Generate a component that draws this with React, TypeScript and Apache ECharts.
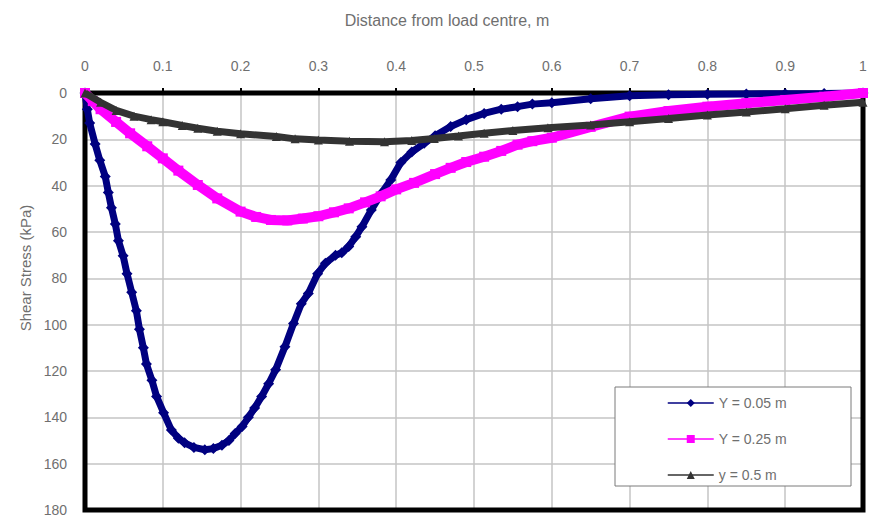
import React, { useEffect, useRef } from "react";
import * as echarts from "echarts";

const xTitle = "Distance from load centre, m";
const yTitle = "Shear Stress (kPa)";
const seriesNames = ["Y = 0.05 m", "Y = 0.25 m", "y = 0.5 m"];

const blueX = [0, 0.003, 0.006, 0.013, 0.019, 0.026, 0.03, 0.034, 0.039, 0.043, 0.049, 0.054, 0.06, 0.066, 0.07, 0.075, 0.079, 0.086, 0.092, 0.101, 0.111, 0.12, 0.128, 0.14, 0.154, 0.165, 0.176, 0.185, 0.193, 0.202, 0.21, 0.218, 0.227, 0.236, 0.245, 0.257, 0.268, 0.278, 0.287, 0.299, 0.309, 0.322, 0.33, 0.339, 0.348, 0.356, 0.368, 0.381, 0.393, 0.406, 0.42, 0.436, 0.45, 0.47, 0.49, 0.513, 0.535, 0.556, 0.575, 0.6, 0.65, 0.7, 0.75, 0.8, 0.85, 0.9, 0.95, 1.0];
const blueY = [0, 7, 13, 22, 29, 36, 43, 49.5, 56.6, 63.8, 70.3, 78, 86, 94, 102, 110, 117, 124, 131, 138, 145.5, 149, 151, 153, 154, 153.5, 152, 150, 147, 144, 140, 136, 131, 125.5, 119.5, 109.5, 99.5, 91, 86.5, 78, 73.5, 70, 69, 66.3, 62, 57.7, 50.5, 43.3, 37.5, 30, 25.5, 21.7, 18.5, 14.5, 11.5, 8.8, 7, 5.9, 4.8, 4.2, 2.5, 1.2, 0.8, 0.5, 0.4, 0.3, 0.2, 0];

const magX = [0, 0.01, 0.02, 0.04, 0.058, 0.08, 0.1, 0.12, 0.145, 0.17, 0.2, 0.22, 0.239, 0.26, 0.28, 0.3, 0.32, 0.339, 0.36, 0.38, 0.4, 0.423, 0.45, 0.47, 0.49, 0.513, 0.535, 0.556, 0.575, 0.6, 0.65, 0.7, 0.75, 0.8, 0.85, 0.9, 0.95, 1.0];
const magY = [0, 3.5, 7, 12.5, 17.4, 23, 28.2, 33.5, 39.7, 45.5, 51.2, 53.5, 54.8, 55, 54.2, 53.2, 51.5, 49.8, 47.2, 44.6, 41.6, 38.8, 35, 32.3, 29.8, 27.5, 25, 22.3, 20.8, 19.3, 14.6, 10.2, 7.8, 5.9, 4.4, 3, 1.6, 0];

const blkX = [0, 0.02, 0.04, 0.063, 0.085, 0.1, 0.125, 0.145, 0.17, 0.2, 0.246, 0.27, 0.3, 0.34, 0.385, 0.42, 0.449, 0.48, 0.513, 0.55, 0.595, 0.65, 0.7, 0.75, 0.8, 0.85, 0.9, 0.95, 1.0];
const blkY = [0, 4, 7.5, 10, 11.5, 12.4, 14, 15.2, 16.5, 17.6, 18.8, 19.8, 20.3, 20.8, 21, 20.5, 19.6, 18.6, 17.4, 16.2, 15, 13.8, 12.4, 11, 9.5, 8.2, 6.8, 5.3, 4];

const pairs = (xs: number[], ys: number[]) => xs.map((x, i) => [x, ys[i]]);

const FONT = "Arial, 'Liberation Sans', sans-serif";
const TEXT = "#6f6f6f";

export default function App() {
  const ref = useRef<HTMLDivElement>(null);
  useEffect(() => {
    if (!ref.current) return;
    const chart = echarts.init(ref.current, undefined, { renderer: "svg" });
    chart.setOption({
      animation: false,
      backgroundColor: "#fff",
      textStyle: { fontFamily: FONT },
      grid: {
        left: 85,
        right: 7,
        top: 93,
        bottom: 12,
        show: false,
      },
      xAxis: {
        type: "value",
        position: "top",
        min: 0,
        max: 1,
        interval: 0.1,
        axisLine: { show: false },
        axisTick: { show: true, length: 5, lineStyle: { color: "#000", width: 2 } },
        axisLabel: { color: TEXT, fontSize: 14, margin: 20, fontFamily: FONT },
        splitLine: { show: true, lineStyle: { color: "#c4c4c4", width: 1.5 } },
      },
      yAxis: {
        type: "value",
        inverse: true,
        min: 0,
        max: 180,
        interval: 20,
        axisLine: { show: false },
        axisTick: { show: false },
        axisLabel: { color: TEXT, fontSize: 14, margin: 18, fontFamily: FONT },
        splitLine: { show: true, lineStyle: { color: "#c4c4c4", width: 1.5 } },
      },
      legend: {
        orient: "vertical",
        left: 667,
        top: 396,
        padding: 0,
        itemWidth: 46,
        itemHeight: 10,
        itemGap: 22,
        z: 100,
        textStyle: { color: TEXT, fontSize: 14, fontFamily: FONT },
        lineStyle: { width: 1.5 },
        data: seriesNames,
      },
      graphic: [
        {
          type: "rect",
          z: 1,
          silent: true,
          shape: { x: 85, y: 93, width: 778, height: 417 },
          style: { fill: "none", stroke: "#000", lineWidth: 5 },
        },
        {
          type: "rect",
          z: 50,
          shape: { x: 615, y: 387, width: 236, height: 99 },
          style: { fill: "#fff", stroke: "#7a7a7a", lineWidth: 1 },
        },
        {
          type: "text",
          x: 447,
          y: 20,
          style: {
            text: xTitle,
            fill: TEXT,
            font: `16px ${FONT}`,
            align: "center",
            verticalAlign: "middle",
          },
        },
        {
          type: "text",
          x: 25,
          y: 268,
          rotation: Math.PI / 2,
          style: {
            text: yTitle,
            fill: TEXT,
            font: `15px ${FONT}`,
            align: "center",
            verticalAlign: "middle",
          },
        },
      ],
      series: [
        {
          name: seriesNames[0],
          type: "line",
          data: pairs(blueX, blueY),
          color: "#000080",
          symbol: "diamond",
          symbolSize: 11,
          lineStyle: { width: 7, color: "#000080" },
          itemStyle: { color: "#000080" },
          clip: false,
          z: 2,
        },
        {
          name: seriesNames[1],
          type: "line",
          data: pairs(magX, magY),
          color: "#ff00ff",
          symbol: "rect",
          symbolSize: 10,
          lineStyle: { width: 10, color: "#ff00ff" },
          itemStyle: { color: "#ff00ff" },
          clip: false,
          z: 3,
        },
        {
          name: seriesNames[2],
          type: "line",
          data: pairs(blkX, blkY),
          color: "#333333",
          symbol: "triangle",
          symbolSize: 9,
          lineStyle: { width: 7, color: "#333333" },
          itemStyle: { color: "#333333" },
          clip: false,
          z: 4,
        },
      ],
    });
    return () => chart.dispose();
  }, []);
  return <div ref={ref} style={{ width: 870, height: 522, position: "absolute", left: 0, top: 0 }} />;
}
